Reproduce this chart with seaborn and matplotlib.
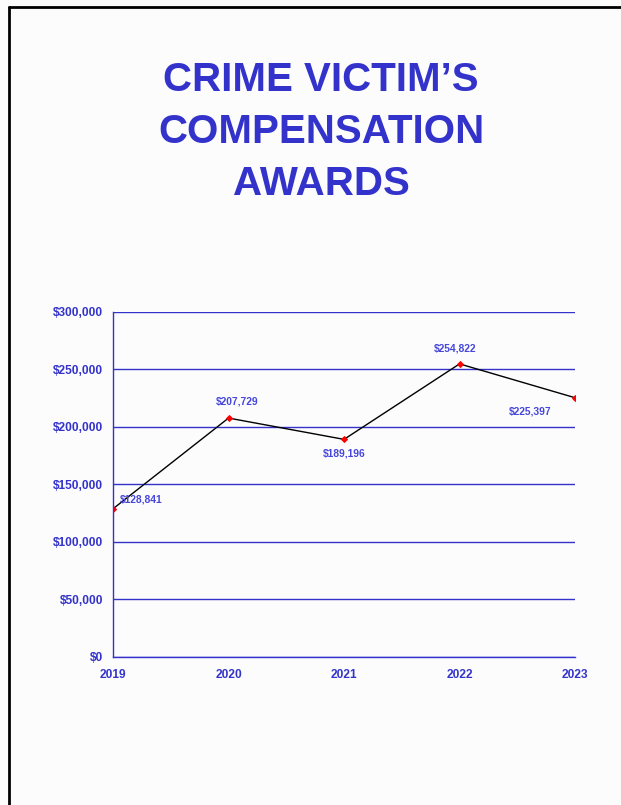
import pandas as pd
import numpy as np
import matplotlib
matplotlib.use('Agg')
import matplotlib.pyplot as plt
import matplotlib.ticker as mticker
from matplotlib.lines import Line2D
import seaborn as sns

# ── Data ─────────────────────────────────────────────────────────────────────
years = [2019, 2020, 2021, 2022, 2023]
awards = [128841, 207729, 189196, 254822, 225397]
# label offsets (points) for each data label
label_dx = [20, 6, 0, -3, -32]
label_dy = [7, 12, -10, 11, -10]
y_ticks = [0, 50000, 100000, 150000, 200000, 250000, 300000]

df = pd.DataFrame({'year': years, 'awards': awards})

blue = '#3333cc'
label_blue = '#4646dc'
bg = '#fcfcfc'

sns.set_theme(style='white')
plt.rcParams['font.family'] = ['Liberation Sans', 'DejaVu Sans']

fig = plt.figure(figsize=(6.21, 8.05), dpi=100, facecolor=bg)
ax = fig.add_axes([0.182, 0.1839, 0.744, 0.4286])
ax.set_facecolor(bg)

sns.lineplot(data=df, x='year', y='awards', ax=ax, color='black', linewidth=1,
             marker='D', markersize=3, markerfacecolor='red', markeredgecolor='red')

for x, y, dx, dy in zip(years, awards, label_dx, label_dy):
    ax.annotate(f'${y:,}', (x, y), xytext=(dx, dy), textcoords='offset points',
                ha='center', va='center', fontsize=7.4, fontweight='bold',
                color=label_blue)

ax.set_xlim(years[0], years[-1])
ax.set_ylim(0, 300000)
ax.set_xticks(years)
ax.set_yticks(y_ticks)
ax.yaxis.set_major_formatter(mticker.FuncFormatter(lambda v, p: f'${int(v):,}'))
ax.grid(axis='y', color=blue, linewidth=1)
ax.grid(axis='x', visible=False)
for s in ['top', 'right']:
    ax.spines[s].set_visible(False)
for s in ['left', 'bottom']:
    ax.spines[s].set_color(blue)
    ax.spines[s].set_linewidth(1)
ax.tick_params(axis='both', which='major', direction='out', length=4, width=1,
               color=blue, labelcolor=blue, labelsize=8.6, pad=3)
ax.tick_params(axis='x', pad=5)
for lbl in ax.get_xticklabels() + ax.get_yticklabels():
    lbl.set_fontweight('bold')
ax.set_xlabel('')
ax.set_ylabel('')

# title
fig.text(0.517, 0.836, 'CRIME VICTIM\u2019S\nCOMPENSATION\nAWARDS', ha='center', va='center',
         fontsize=29, fontweight='bold', color=blue, linespacing=1.48)

# slide border (top and left)
fig.add_artist(Line2D([0.0145, 1.0], [0.9915, 0.9915], color='black', linewidth=2,
                      transform=fig.transFigure))
fig.add_artist(Line2D([0.0145, 0.0145], [0.0, 0.9915], color='black', linewidth=2,
                      transform=fig.transFigure))

plt.savefig('out.png', dpi=100, facecolor=bg)
plt.close()
